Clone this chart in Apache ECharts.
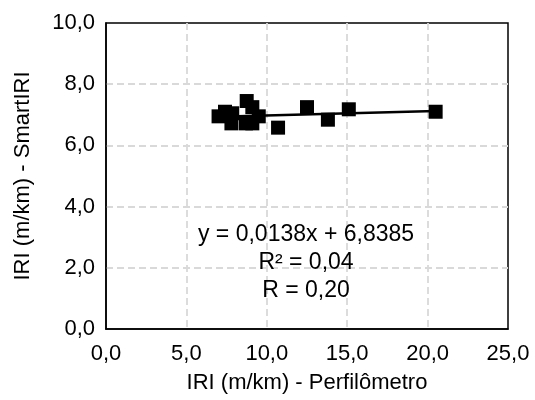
<!DOCTYPE html>
<html>
<head>
<meta charset="utf-8">
<script src="https://cdn.jsdelivr.net/npm/echarts@6/dist/echarts.min.js"></script>
<style>
  html, body { margin: 0; padding: 0; background: #fff; }
  #chart { width: 535px; height: 400px; }
</style>
</head>
<body>
<div id="chart"></div>
<script>
// IRI measured by profilometer (x) vs SmartIRI app (y), in m/km
const iriPerfilometro = [7.0, 7.4, 7.85, 7.8, 8.75, 9.1, 8.7, 9.1, 9.5, 10.7, 12.5, 13.8, 15.1, 20.5];
const iriSmart        = [6.95, 7.10, 7.05, 6.72, 7.45, 7.25, 6.72, 6.72, 6.95, 6.58, 7.25, 6.84, 7.18, 7.10];

// Linear fit reported on the chart
const slope = 0.0138;
const intercept = 6.8385;
const r2Label = '0,04';
const rLabel = '0,20';

const xTicks = { min: 0, max: 25, interval: 5 };
const yTicks = { min: 0, max: 10, interval: 2 };

const fmt = (v) => v.toFixed(1).replace('.', ',');
const fmtEq = (v, d) => v.toFixed(d).replace('.', ',');

const points = iriPerfilometro.map((x, i) => [x, iriSmart[i]]);
const xMinData = Math.min(...iriPerfilometro);
const xMaxData = Math.max(...iriPerfilometro);
const trend = [
  [xMinData, slope * xMinData + intercept],
  [xMaxData, slope * xMaxData + intercept]
];

const font = 'Liberation Sans, Arial, sans-serif';
const gridLine = {
  show: true, showMinLine: false, showMaxLine: false,
  lineStyle: { color: '#d9d9d9', width: 1.8, type: [7, 4] }
};

const chart = echarts.init(document.getElementById('chart'), null, { renderer: 'canvas' });
chart.setOption({
  animation: false,
  backgroundColor: '#fff',
  textStyle: { fontFamily: font },
  grid: {
    left: 106, right: 27, top: 23, bottom: 71,
    show: true, borderColor: '#000', borderWidth: 1.5, backgroundColor: 'transparent'
  },
  xAxis: {
    type: 'value',
    min: xTicks.min, max: xTicks.max, interval: xTicks.interval,
    name: 'IRI (m/km) - Perfilômetro',
    nameLocation: 'middle',
    nameGap: 43,
    nameTextStyle: { fontSize: 22, color: '#000', fontFamily: font },
    axisLine: { show: true, lineStyle: { color: '#000', width: 1.5 } },
    axisTick: { show: false },
    axisLabel: { fontSize: 22, color: '#000', margin: 14, formatter: fmt, fontFamily: font },
    splitLine: gridLine
  },
  yAxis: {
    type: 'value',
    min: yTicks.min, max: yTicks.max, interval: yTicks.interval,
    name: 'IRI (m/km) - SmartIRI',
    nameLocation: 'middle',
    nameGap: 72,
    nameTextStyle: { fontSize: 22, color: '#000', fontFamily: font },
    axisLine: { show: true, lineStyle: { color: '#000', width: 1.5 } },
    axisTick: { show: false },
    axisLabel: { fontSize: 22, color: '#000', margin: 11, formatter: fmt, fontFamily: font },
    splitLine: gridLine
  },
  series: [
    {
      name: 'SmartIRI',
      type: 'scatter',
      data: points,
      symbol: 'rect',
      symbolSize: 14,
      itemStyle: { color: '#000', opacity: 1 },
      z: 2
    },
    {
      name: 'Linear',
      type: 'line',
      data: trend,
      showSymbol: false,
      symbol: 'none',
      lineStyle: { color: '#000', width: 2.5 },
      z: 3
    }
  ],
  graphic: [
    {
      type: 'text',
      x: 306,
      y: 221,
      z: 100,
      zlevel: 0,
      style: {
        text: 'y = ' + fmtEq(slope, 4) + 'x + ' + fmtEq(intercept, 4) + '\nR² = ' + r2Label + '\nR = ' + rLabel,
        font: '23px ' + font,
        fill: '#000',
        align: 'center',
        verticalAlign: 'top',
        lineHeight: 27.7
      }
    }
  ]
});
</script>
</body>
</html>
